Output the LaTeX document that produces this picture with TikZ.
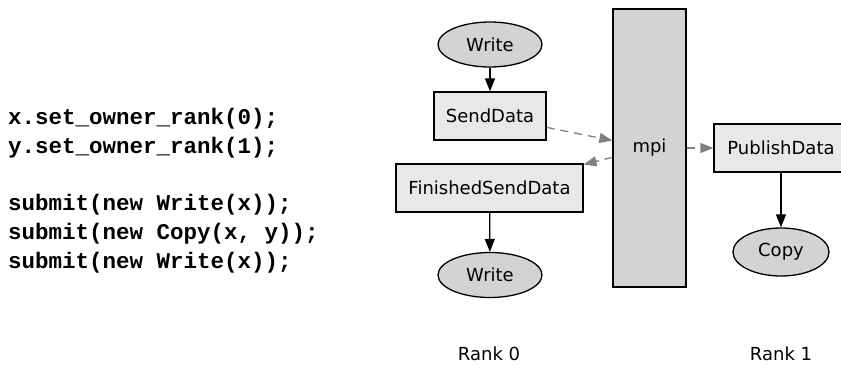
\documentclass[tikz,border=0pt]{standalone}
\usepackage{fontspec}
\setmainfont{DejaVu Sans}
\setmonofont{Liberation Mono}
\usetikzlibrary{shapes.geometric,arrows.meta}
\definecolor{ellgray}{HTML}{D3D3D3}
\definecolor{boxgray}{HTML}{E8E8E8}
\definecolor{edgegray}{HTML}{808080}
\begin{document}
\begin{tikzpicture}[x=1pt,y=-1pt,
    every node/.style={font=\fontsize{18}{22}\selectfont},
    taskell/.style={ellipse,draw,line width=1.3pt,fill=ellgray,minimum width=104pt,minimum height=45pt,inner sep=0pt},
    msgbox/.style={rectangle,draw,line width=1.3pt,fill=boxgray,minimum height=48pt,inner sep=0pt},
    flow/.style={line width=1.3pt,-{Triangle[length=13pt,width=10pt]}},
    comm/.style={line width=1.3pt,edgegray,dash pattern=on 8pt off 6pt,-{Triangle[length=13pt,width=10pt]}}]
      \useasboundingbox (0,0) rectangle (841,367);
      \node[anchor=west,align=left,inner sep=0pt,font=\fontsize{22.5}{28.7}\selectfont\ttfamily\bfseries] (code) at (8,190.5)
        {x.set\_owner\_rank(0);\\y.set\_owner\_rank(1);\\[28.7pt]submit(new Write(x));\\submit(new Copy(x, y));\\submit(new Write(x));};
      \node[taskell] (write1) at (490,44.5) {Write};
      \node[msgbox,minimum width=112pt] (send) at (490,116) {SendData};
      \node[msgbox,minimum width=187pt] (finished) at (489.5,188) {FinishedSendData};
      \node[taskell] (write2) at (490,275) {Write};
      \node[rectangle,draw,line width=1.3pt,fill=ellgray,minimum width=73pt,minimum height=278pt] (mpi) at (649.5,148) {mpi};
      \node[msgbox,minimum width=134pt] (publish) at (781,148) {PublishData};
      \node[taskell,minimum width=96pt,minimum height=48pt] (copy) at (781,252) {Copy};
      \node (rank0) at (489,354) {Rank 0};
      \node (rank1) at (781,354) {Rank 1};
      \draw[flow] (write1) -- (send);
      \draw[flow] (finished) -- (write2);
      \draw[flow] (publish) -- (copy);
      \draw[comm] (send) -- (mpi);
      \draw[comm] (mpi) -- (finished);
      \draw[comm] (mpi) -- (publish);
\end{tikzpicture}
\end{document}
